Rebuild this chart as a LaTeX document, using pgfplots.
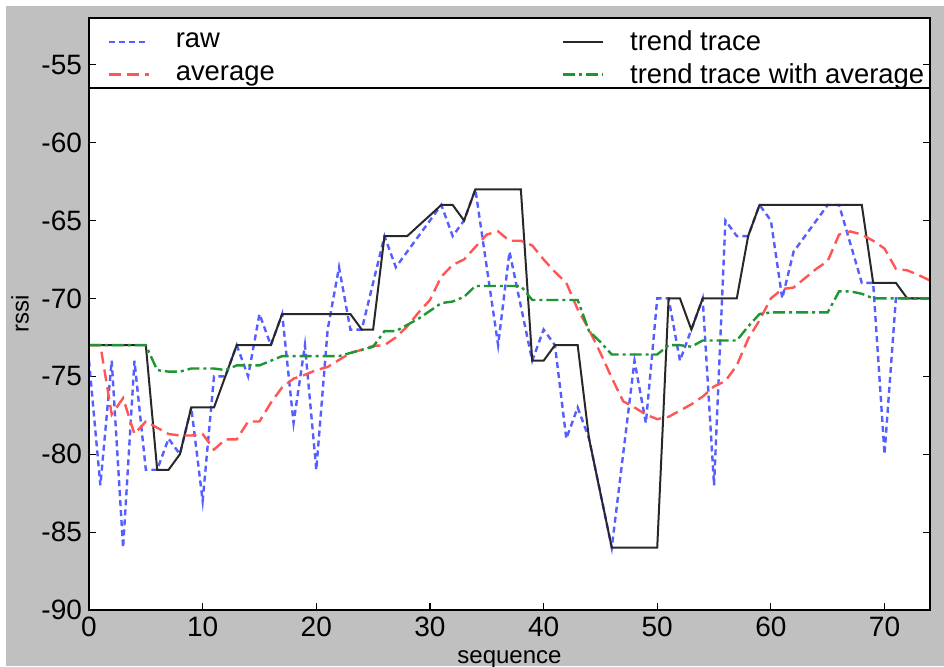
\documentclass[border=0pt]{standalone}
\usepackage{fontspec}
\setmainfont{Liberation Sans}
\usepackage{pgfplots}
\usepackage{pgfplotstable}
\pgfplotsset{compat=1.18}
\definecolor{figgray}{RGB}{192,192,192}
\definecolor{rawblue}{RGB}{85,95,255}
\definecolor{avgred}{RGB}{255,85,85}
\definecolor{trendblk}{RGB}{40,40,40}
\definecolor{tavggreen}{RGB}{30,150,50}

% x, raw, trend trace, average, trend trace with average
\pgfplotstableread{
x  raw    trend  avg     tavg
0  -74    -73    -73     -73
1  -82    -73    -73     -73
2  -74    -73    -77.45  -73
3  -86    -73    -76.4   -73
4  -74    -73    -78.7   -73
5  -81    -73    -77.9   -73
6  -81    -81    -78.3   -74.6
7  -79    -81    -78.7   -74.7
8  -80    -80    -78.8   -74.7
9  -77    -77    -78.8   -74.5
10 -83    -77    -78.7   -74.5
11 -75    -77    -79.7   -74.5
12 -75    -75    -79.05  -74.6
13 -73    -73    -79.05  -74.3
14 -75    -73    -77.9   -74.3
15 -71    -73    -77.9   -74.3
16 -73    -73    -76.7   -74.0
17 -71    -71    -75.7   -73.7
18 -78    -71    -75.15  -73.7
19 -73    -71    -74.9   -73.7
20 -81    -71    -74.6   -73.7
21 -72    -71    -74.4   -73.7
22 -68    -71    -73.95  -73.7
23 -72    -71    -73.5   -73.5
24 -72    -72    -73.3   -73.3
25 -69    -72    -73.05  -73.1
26 -66    -66    -73.0   -72.1
27 -68    -66    -72.5   -72.1
28 -67    -66    -71.8   -71.7
29 -66    -65.33 -70.9   -71.3
30 -65    -64.67 -70.1   -70.8
31 -64    -64    -68.6   -70.3
32 -66    -64    -67.85  -70.2
33 -65    -65    -67.5   -69.9
34 -63    -63    -66.7   -69.2
35 -68    -63    -65.9   -69.2
36 -73    -63    -65.7   -69.2
37 -67    -63    -66.3   -69.2
38 -70.5  -63    -66.3   -69.2
39 -74    -74    -66.6   -70.1
40 -72    -74    -67.5   -70.1
41 -73    -73    -68.3   -70.1
42 -79    -73    -69.0   -70.1
43 -77    -73    -70.7   -70.1
44 -79    -79    -72.0   -72.1
45 -82.5  -82.5  -73.5   -72.8
46 -86    -86    -75.1   -73.6
47 -80    -86    -76.6   -73.6
48 -74    -86    -77.0   -73.6
49 -78    -86    -77.45  -73.6
50 -70    -86    -77.75  -73.6
51 -70    -70    -77.6   -73.0
52 -74    -70    -77.2   -73.0
53 -72    -72    -76.8   -73.1
54 -70    -70    -76.3   -72.7
55 -82    -70    -75.65  -72.7
56 -65    -70    -75.3   -72.7
57 -66    -70    -74.3   -72.7
58 -66    -66    -72.6   -71.8
59 -64    -64    -71.4   -71.0
60 -65    -64    -70.0   -70.9
61 -70    -64    -69.4   -70.9
62 -67    -64    -69.3   -70.9
63 -66    -64    -68.7   -70.9
64 -65    -64    -68.1   -70.9
65 -64    -64    -67.6   -70.9
66 -64    -64    -65.9   -69.55
67 -66.5  -64    -65.7   -69.55
68 -69    -64    -65.9   -69.7
69 -69    -69    -66.3   -70.0
70 -80    -69    -66.8   -70.0
71 -70    -69    -68.1   -70.0
72 -70    -70    -68.2   -70.0
73 -70    -70    -68.5   -70.0
74 -70    -70    -68.85  -70.0
}\rssidata

\begin{document}
\begin{tikzpicture}
\useasboundingbox (0,0) rectangle (472pt,333pt);
\fill[white] (0,0) rectangle (472pt,333pt);
\fill[figgray] (3pt,0) rectangle (472pt,330pt);
\begin{axis}[
    at={(44.5pt,28pt)}, anchor=south west,
    scale only axis,
    width=420.5pt, height=296pt,
    xmin=0, xmax=74, ymin=-90, ymax=-52,
    xtick={0,10,...,70},
    ytick={-90,-85,...,-55},
    tick align=inside,
    xtick pos=left,
    major tick length=3.5pt,
    axis background/.style={fill=white},
    axis line style={line width=0.9pt},
    tick style={line width=0.6pt, black},
    ticklabel style={font=\fontsize{14}{16}\selectfont},
    /pgf/number format/assume math mode=true,
    xlabel={sequence},
    ylabel={rssi},
    label style={font=\fontsize{12}{14}\selectfont},
    xlabel style={at={(axis description cs:0.5,-0.083)}, anchor=center},
    ylabel style={at={(axis description cs:-0.082,0.5)}, anchor=center},
    legend columns=2,
    legend style={at={(0,1)}, anchor=north west, draw=none, fill=none,
        font=\fontsize{13.7}{16}\selectfont, inner xsep=9pt, inner ysep=4pt,
        row sep=1pt,
        cells={anchor=west},
        /tikz/every odd column/.append style={column sep=11pt},
        /tikz/every even column/.append style={column sep=141.5pt}},
    legend image code/.code={\draw[#1] (0pt,0pt) -- (20pt,0pt);},
]
\addplot[rawblue, line width=1.2pt, dash pattern=on 3pt off 2pt] table[x=x, y=raw] {\rssidata};
\addlegendentry{raw}
\addplot[trendblk, line width=1pt] table[x=x, y=trend] {\rssidata};
\addlegendentry{trend trace}
\addplot[avgred, line width=1.2pt, dash pattern=on 6pt off 3pt] table[x=x, y=avg] {\rssidata};
\addlegendentry{average}
\addplot[tavggreen, line width=1.2pt, dash pattern=on 6pt off 2pt on 1.5pt off 2pt] table[x=x, y=tavg] {\rssidata};
\addlegendentry{trend trace with average}
\end{axis}
\draw[line width=0.9pt] (44.5pt,289pt) -- (465pt,289pt);
\draw[line width=0.9pt] (44.5pt,28pt) rectangle (465pt,324pt);
\end{tikzpicture}
\end{document}
